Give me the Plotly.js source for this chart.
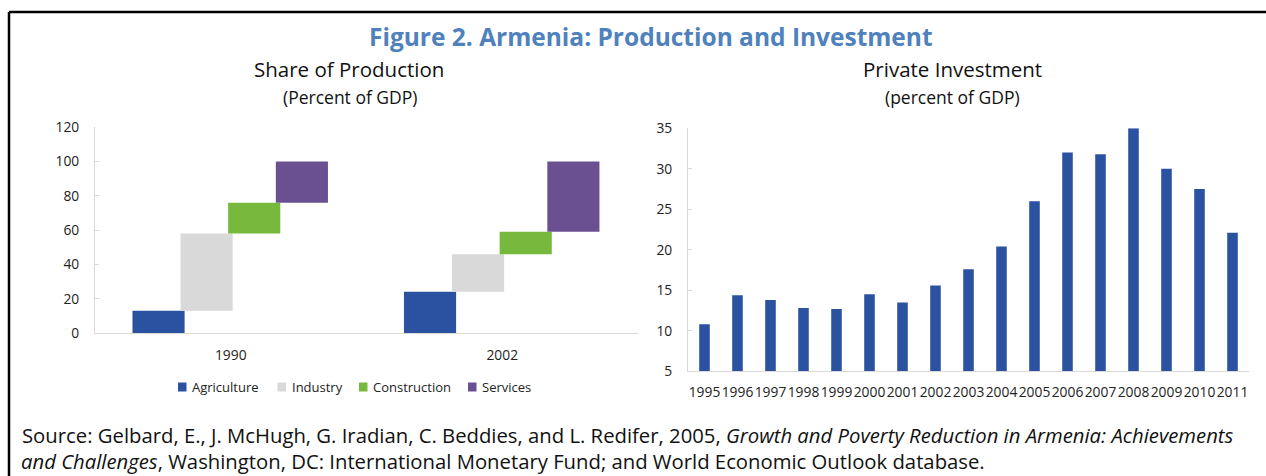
<!DOCTYPE html>
<html><head><meta charset="utf-8">
<script src="https://cdn.plot.ly/plotly-3.0.1.min.js"></script>
<style>html,body{margin:0;padding:0;background:#fff;} #chart{width:1266px;height:476px;}</style>
</head><body><div id="chart"></div>
<script>
// ---- Data ----
const years = ['1990', '2002'];
const sectors = ['Agriculture', 'Industry', 'Construction', 'Services'];
const agriculture = [13, 24];
const industry = [45, 22];
const construction = [18, 13];
const services = [24, 41];

const invYears = ['1995','1996','1997','1998','1999','2000','2001','2002','2003','2004','2005','2006','2007','2008','2009','2010','2011'];
const privateInvestment = [10.8, 14.4, 13.8, 12.8, 12.7, 14.5, 13.5, 15.6, 17.6, 20.4, 26.0, 32.0, 31.8, 35.0, 30.0, 27.5, 22.1];

const leftYTicks = [0, 20, 40, 60, 80, 100, 120];
const rightYTicks = [5, 10, 15, 20, 25, 30, 35];

// ---- Styles ----
const sectorColors = ['#2a52a0', '#d9d9d9', '#77b93d', '#6b5091'];
const FONT = '"Open Sans", "Liberation Sans", sans-serif';
const W = 1266, H = 476;
const px = v => v / W;
const py = v => 1 - v / H;

const shares = [agriculture, industry, construction, services];
const offsets = [-0.362, -0.185, -0.0096, 0.166];
const traces = [];
let cum = years.map(() => 0);
shares.forEach((vals, i) => {
  const base = cum.slice();
  traces.push({
    type: 'bar', name: sectors[i], x: years, y: vals, base: base,
    width: 0.192, offset: offsets[i],
    marker: { color: sectorColors[i] },
    xaxis: 'x', yaxis: 'y', hoverinfo: 'skip', showlegend: false
  });
  cum = cum.map((c, j) => c + vals[j]);
});

traces.push({
  type: 'bar', name: 'Private Investment', x: invYears, y: privateInvestment,
  marker: { color: '#2a52a0' }, xaxis: 'x2', yaxis: 'y2', showlegend: false, hoverinfo: 'skip'
});

const axisCommon = {
  showgrid: false, zeroline: false, showline: true, linecolor: '#d9d9d9', linewidth: 1,
  tickfont: { family: FONT, size: 13.8, color: '#222' }, fixedrange: true
};

// manual legend (positions in px)
const legendTextX = [190, 289.5, 371, 480];
const legendY = 387;
const annotations = [
  { text: '<b>Figure 2. Armenia: Production and Investment</b>', x: px(651), y: py(37), xref: 'paper', yref: 'paper',
    xanchor: 'center', yanchor: 'middle', showarrow: false, font: { family: FONT, size: 24.5, color: '#4f81bd' } },
  { text: 'Share of Production', x: px(349), y: py(69), xref: 'paper', yref: 'paper',
    xanchor: 'center', yanchor: 'middle', showarrow: false, font: { family: FONT, size: 20.5, color: '#111' } },
  { text: '(Percent of GDP)', x: px(350), y: py(97), xref: 'paper', yref: 'paper',
    xanchor: 'center', yanchor: 'middle', showarrow: false, font: { family: FONT, size: 17.5, color: '#111' } },
  { text: 'Private Investment', x: px(952), y: py(69), xref: 'paper', yref: 'paper',
    xanchor: 'center', yanchor: 'middle', showarrow: false, font: { family: FONT, size: 20.5, color: '#111' } },
  { text: '(percent of GDP)', x: px(952), y: py(97), xref: 'paper', yref: 'paper',
    xanchor: 'center', yanchor: 'middle', showarrow: false, font: { family: FONT, size: 17.5, color: '#111' } },
  { text: 'Source: Gelbard, E., J. McHugh, G. Iradian, C. Beddies, and L. Redifer, 2005, <i>Growth and Poverty Reduction in Armenia: Achievements</i>',
    x: px(20), y: py(435), xref: 'paper', yref: 'paper', xanchor: 'left', yanchor: 'middle', showarrow: false,
    font: { family: FONT, size: 20.3, color: '#111' } },
  { text: '<i>and Challenges</i>, Washington, DC: International Monetary Fund; and World Economic Outlook database.',
    x: px(20), y: py(461), xref: 'paper', yref: 'paper', xanchor: 'left', yanchor: 'middle', showarrow: false,
    font: { family: FONT, size: 20.3, color: '#111' }, borderpad: 0 }
];
const shapes = [
  { type: 'line', xref: 'paper', yref: 'paper', x0: px(9), x1: 1, y0: py(12), y1: py(12), line: { color: '#000', width: 2.5 } },
  { type: 'line', xref: 'paper', yref: 'paper', x0: px(9), x1: px(9), y0: py(12), y1: 0, line: { color: '#000', width: 2.5 } }
];
sectors.forEach((s, i) => {
  const tx = legendTextX[i];
  shapes.push({ type: 'rect', xref: 'paper', yref: 'paper', x0: px(tx - 12), x1: px(tx - 3.5),
    y0: py(legendY + 4.5), y1: py(legendY - 4.5), fillcolor: sectorColors[i], line: { width: 0 } });
  annotations.push({ text: s, x: px(tx), y: py(legendY), xref: 'paper', yref: 'paper', xanchor: 'left', yanchor: 'middle',
    showarrow: false, font: { family: FONT, size: 13, color: '#222' } });
});

const layout = {
  width: W, height: H,
  margin: { l: 0, r: 0, t: 0, b: 0 },
  paper_bgcolor: '#fff', plot_bgcolor: 'rgba(0,0,0,0)',
  barmode: 'overlay', bargap: 0.68,
  showlegend: false,
  xaxis: Object.assign({}, axisCommon, {
    domain: [px(95), px(638)], type: 'category', range: [-0.5, 1.5],
    ticks: '', ticklabelstandoff: 9
  }),
  yaxis: Object.assign({}, axisCommon, {
    domain: [py(333), py(127.3)], range: [0, 120], tickvals: leftYTicks,
    ticks: 'inside', ticklen: 4, tickcolor: '#d9d9d9', ticklabelstandoff: 12
  }),
  xaxis2: Object.assign({}, axisCommon, {
    domain: [px(688), px(1249)], type: 'category', range: [-0.5, 16.5],
    ticks: '', tickangle: 0, ticklabelstandoff: 8, anchor: 'y2'
  }),
  yaxis2: Object.assign({}, axisCommon, {
    domain: [py(371.3), py(128.3)], range: [5, 35], tickvals: rightYTicks,
    ticks: 'inside', ticklen: 4, tickcolor: '#d9d9d9', ticklabelstandoff: 12, anchor: 'x2'
  }),
  annotations: annotations,
  shapes: shapes
};

Plotly.newPlot('chart', traces, layout, { displayModeBar: false, staticPlot: true });
</script>
</body></html>
